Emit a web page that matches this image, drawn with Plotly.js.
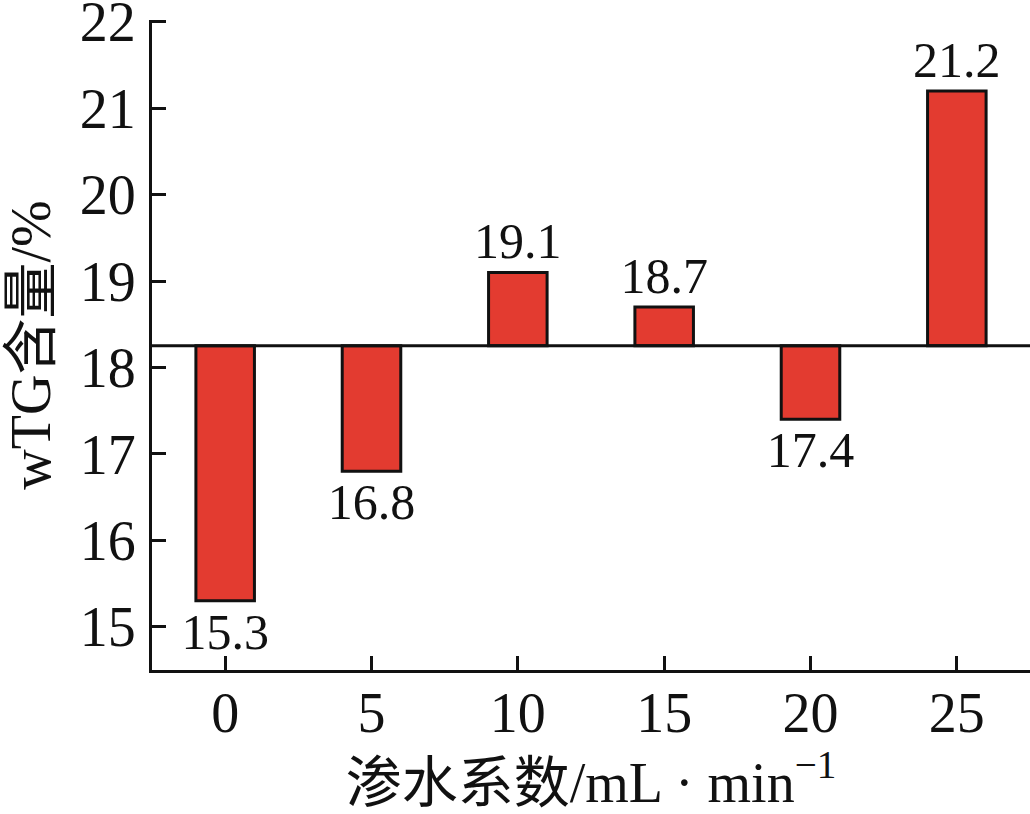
<!DOCTYPE html>
<html>
<head>
<meta charset="utf-8">
<script src="https://cdn.plot.ly/plotly-3.0.1.min.js"></script>
<style>html,body{margin:0;padding:0;background:#fff;}#chart{width:1030px;height:814px;}</style>
</head>
<body>
<div id="chart"></div>
<script>
var categories = ['0', '5', '10', '15', '20', '25'];
var values = [15.3, 16.8, 19.1, 18.7, 17.4, 21.2];
var baseline = 18.25;
var yTicks = [15, 16, 17, 18, 19, 20, 21, 22];
var labels = ['15.3', '16.8', '19.1', '18.7', '17.4', '21.2'];

var FONT = '"Liberation Serif", "Times New Roman", "Noto Sans CJK SC", serif';

var trace = {
  type: 'bar',
  x: categories,
  y: values.map(function (v) { return v - baseline; }),
  base: values.map(function () { return baseline; }),
  width: 0.4,
  marker: { color: '#E33B30', line: { color: '#111', width: 3 } },
  text: labels,
  textposition: 'outside',
  constraintext: 'none',
  cliponaxis: false,
  textfont: { family: FONT, size: 50, color: '#111' },
  hoverinfo: 'none'
};

var layout = {
  width: 1030,
  height: 814,
  margin: { l: 152, r: 0, t: 20, b: 144 },
  paper_bgcolor: '#fff',
  plot_bgcolor: '#fff',
  showlegend: false,
  font: { family: FONT, color: '#111' },
  xaxis: {
    type: 'category',
    range: [-0.5, 5.5],
    showline: true,
    linecolor: '#111',
    linewidth: 3,
    ticks: 'inside',
    ticklen: 14,
    tickwidth: 3,
    tickcolor: '#111',
    showgrid: false,
    zeroline: false,
    ticklabelstandoff: -8,
    tickfont: { family: FONT, size: 56, color: '#111' },
    title: { text: '渗水系数/mL · min<sup>−1</sup>', font: { family: FONT, size: 56, color: '#111' }, standoff: 0 }
  },
  yaxis: {
    range: [14.5, 22.02],
    tickvals: yTicks,
    showline: true,
    linecolor: '#111',
    linewidth: 3,
    ticks: 'inside',
    ticklen: 14,
    tickwidth: 3,
    tickcolor: '#111',
    showgrid: false,
    zeroline: false,
    ticklabeloverflow: 'allow',
    ticklabelstandoff: 2,
    tickfont: { family: FONT, size: 56, color: '#111' },
    title: { text: 'wTG含量/%', font: { family: FONT, size: 56, color: '#111' }, standoff: 16 }
  },
  shapes: [{
    type: 'line', xref: 'paper', x0: 0, x1: 1, yref: 'y', y0: baseline, y1: baseline,
    line: { color: '#111', width: 3 }, layer: 'above'
  }]
};

Plotly.newPlot('chart', [trace], layout, { displayModeBar: false, staticPlot: true });
</script>
</body>
</html>
